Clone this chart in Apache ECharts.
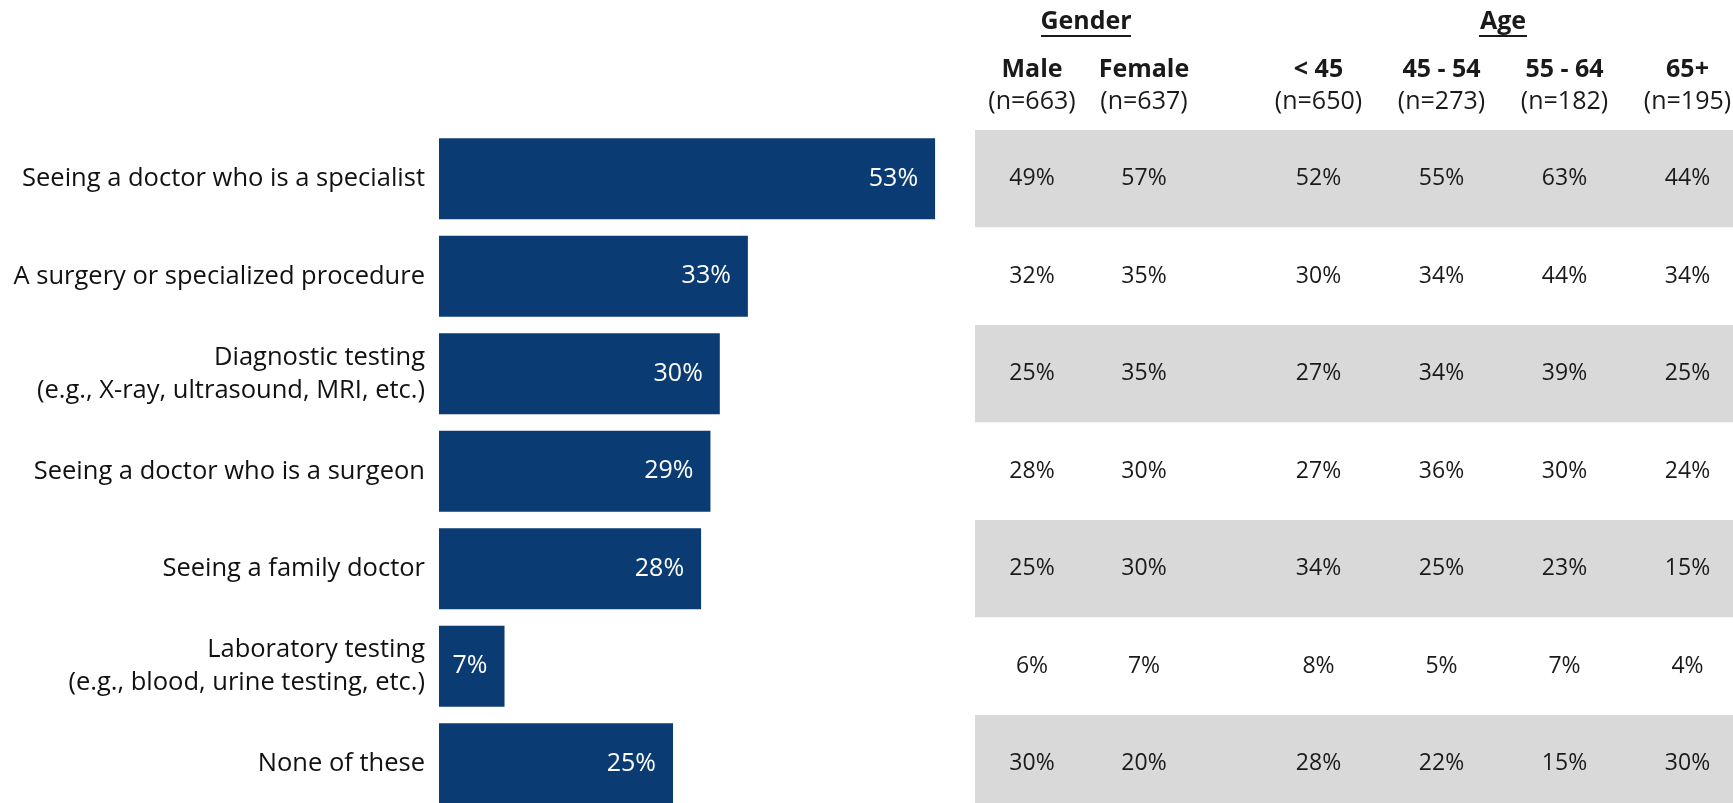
<!DOCTYPE html>
<html>
<head>
<meta charset="utf-8">
<script src="https://cdn.jsdelivr.net/npm/echarts@6/dist/echarts.min.js"></script>
<style>
html, body { margin: 0; padding: 0; background: #fff; }
#chart { width: 1733px; height: 803px; }
</style>
</head>
<body>
<div id="chart"></div>
<script>
var categories = [
	'Seeing a doctor who is a specialist',
	'A surgery or specialized procedure',
	'Diagnostic testing\n(e.g., X-ray, ultrasound, MRI, etc.)',
	'Seeing a doctor who is a surgeon',
	'Seeing a family doctor',
	'Laboratory testing\n(e.g., blood, urine testing, etc.)',
	'None of these'
];
var total = [53, 33, 30, 29, 28, 7, 25];

var genderCols = ['Male', 'Female'];
var genderN = [663, 637];
var male = [49, 32, 25, 28, 25, 6, 30];
var female = [57, 35, 35, 30, 30, 7, 20];

var ageCols = ['< 45', '45 - 54', '55 - 64', '65+'];
var ageN = [650, 273, 182, 195];
var ageUnder45 = [52, 30, 27, 27, 34, 8, 28];
var age45to54 = [55, 34, 34, 36, 25, 5, 22];
var age55to64 = [63, 44, 39, 30, 23, 7, 15];
var age65plus = [44, 34, 25, 24, 15, 4, 30];

var genderData = [male, female];
var ageData = [ageUnder45, age45to54, age55to64, age65plus];

var myChart = echarts.init(document.getElementById('chart'));

var FONT = 'Open Sans';
var INK = '#1a1a1a';
var TOP = 130, ROWS_H = 682.5;

function hiddenRows(gridIndex, split) {
	return {
		type: 'category',
		gridIndex: gridIndex,
		inverse: true,
		data: categories,
		axisLine: { show: false },
		axisTick: { show: false },
		axisLabel: { show: false },
		splitLine: { show: false },
		splitArea: split ? { show: true, areaStyle: { color: ['#d9d9d9', '#ffffff'] } } : { show: false }
	};
}

function headerAxis(gridIndex, cols, ns) {
	return {
		type: 'category',
		gridIndex: gridIndex,
		position: 'top',
		data: cols,
		axisLine: { show: false },
		axisTick: { show: false },
		splitLine: { show: false },
		axisLabel: {
			interval: 0,
			margin: 12,
			formatter: function (v, i) {
				return '{b|' + v + '}\n{n|(n=' + ns[i] + ')}';
			},
			rich: {
				b: { fontFamily: FONT, fontSize: 25, fontWeight: 'bold', color: INK, lineHeight: 32 },
				n: { fontFamily: FONT, fontSize: 25, color: INK, lineHeight: 32 }
			}
		}
	};
}

function columnSeries(gridIndex, cols, data) {
	return cols.map(function (name, j) {
		return {
			type: 'scatter',
			name: name,
			xAxisIndex: gridIndex,
			yAxisIndex: gridIndex,
			symbolSize: 1,
			itemStyle: { color: 'rgba(0,0,0,0)', opacity: 1 },
			silent: true,
			label: {
				show: true,
				position: 'inside',
				fontFamily: FONT,
				fontSize: 23,
				color: INK,
				formatter: function (p) { return p.value[2] + '%'; }
			},
			data: data[j].map(function (v, i) { return [j, i, v]; })
		};
	});
}

function groupTitle(text, cx, underline) {
	return {
		type: 'group',
		children: [{
			type: 'text',
			x: cx,
			y: 22,
			style: {
				text: text,
				fontFamily: FONT,
				fontSize: 25,
				fontWeight: 'bold',
				fill: INK,
				align: 'center',
				verticalAlign: 'middle'
			}
		}, {
			type: 'line',
			shape: { x1: cx - underline / 2, y1: 36, x2: cx + underline / 2, y2: 36 },
			style: { stroke: INK, lineWidth: 2 }
		}]
	};
}

var option = {
	animation: false,
	backgroundColor: '#fff',
	textStyle: { fontFamily: FONT },
	grid: [
		{ left: 439, top: TOP, width: 561.6, height: ROWS_H, outerBoundsMode: 'none' },
		{ left: 975, top: TOP, width: 758, height: ROWS_H, outerBoundsMode: 'none' },
		{ left: 976, top: TOP, width: 224, height: ROWS_H, outerBoundsMode: 'none' },
		{ left: 1257, top: TOP, width: 492, height: ROWS_H, outerBoundsMode: 'none' }
	],
	xAxis: [
		{ type: 'value', gridIndex: 0, min: 0, max: 60, show: false },
		{ type: 'value', gridIndex: 1, show: false },
		headerAxis(2, genderCols, genderN),
		headerAxis(3, ageCols, ageN)
	],
	yAxis: [
		{
			type: 'category',
			gridIndex: 0,
			inverse: true,
			data: categories,
			axisLine: { show: false },
			axisTick: { show: false },
			splitLine: { show: false },
			axisLabel: {
				margin: 14,
				fontFamily: FONT,
				fontSize: 25.5,
				color: '#111',
				lineHeight: 33,
				align: 'right'
			}
		},
		hiddenRows(1, true),
		hiddenRows(2, false),
		hiddenRows(3, false)
	],
	graphic: [
		groupTitle('Gender', 1086, 90),
		groupTitle('Age', 1503, 48)
	],
	series: [{
		type: 'bar',
		name: 'Total',
		xAxisIndex: 0,
		yAxisIndex: 0,
		barCategoryGap: '17%',
		itemStyle: { color: '#0a3b72' },
		label: {
			show: true,
			position: 'insideRight',
			distance: 17,
			fontFamily: FONT,
			fontSize: 25,
			color: '#fff',
			formatter: '{c}%'
		},
		data: total
	}].concat(columnSeries(2, genderCols, genderData), columnSeries(3, ageCols, ageData))
};

myChart.setOption(option);
</script>
</body>
</html>
